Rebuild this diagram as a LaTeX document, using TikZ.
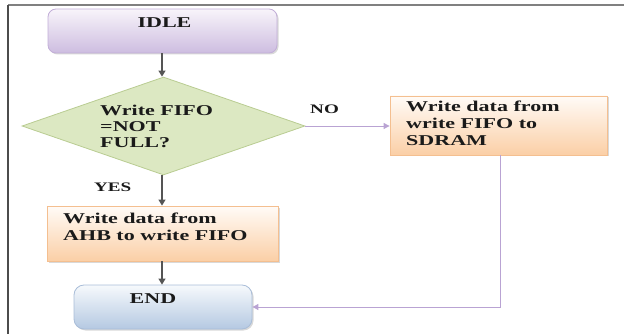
\documentclass[tikz,border=0pt]{standalone}
\usepackage{fontspec}
\setmainfont[FakeStretch=1.47]{Liberation Serif}
\usetikzlibrary{shapes.geometric,shadows,arrows.meta}
\definecolor{idletop}{HTML}{F8F4FA}
\definecolor{idlebot}{HTML}{CDBDE0}
\definecolor{idleedge}{HTML}{C2AED8}
\definecolor{dmdfill}{HTML}{DCE8C2}
\definecolor{dmdedge}{HTML}{B9CC92}
\definecolor{ortop}{HTML}{FFFBF7}
\definecolor{orbot}{HTML}{FBCFA6}
\definecolor{oredge}{HTML}{F4BF90}
\definecolor{endtop}{HTML}{F6F9FC}
\definecolor{endbot}{HTML}{B5C9E2}
\definecolor{endedge}{HTML}{A9BDD8}
\definecolor{lav}{HTML}{B9A3D3}
\definecolor{darkarr}{HTML}{555555}
\definecolor{txt}{HTML}{1A1A1A}
\tikzset{
  boxshadow/.style={drop shadow={shadow xshift=1.5pt,shadow yshift=-1.5pt,opacity=0.25,fill=black!60}},
  idlebox/.style={rounded corners=8pt,draw=idleedge,line width=0.8pt,top color=idletop,bottom color=idlebot,inner sep=0,boxshadow},
  endbox/.style={rounded corners=10pt,draw=endedge,line width=0.8pt,top color=endtop,bottom color=endbot,inner sep=0,boxshadow},
  orbox/.style={draw=oredge,line width=0.8pt,top color=ortop,bottom color=orbot,inner sep=0,boxshadow},
  dmd/.style={diamond,draw=dmdedge,line width=0.8pt,fill=dmdfill,inner sep=0,minimum width=283pt,minimum height=98pt},
  txtnode/.style={inner sep=0,anchor=north west,align=left,text=txt,font=\fontsize{15}{17}\selectfont\bfseries},
  lbl/.style={inner sep=0,anchor=base west,text=txt,font=\fontsize{13}{15}\selectfont\bfseries},
  darrow/.style={draw=darkarr,line width=1.1pt,-{Triangle[length=6pt,width=7pt]}},
  larrow/.style={draw=lav,line width=0.9pt,-{Triangle[length=6pt,width=6pt]}}
}
\begin{document}
\begin{tikzpicture}[x=1pt,y=-1pt]
\useasboundingbox (0,0) rectangle (624,334);
% frame
\draw[draw=black!50,line width=1.6pt] (8,5) -- (624,5);
\draw[draw=black!70,line width=1.4pt] (8,5) -- (8,334);
% shapes
\node[idlebox,minimum width=229pt,minimum height=44pt] (idle) at (162.5,31) {};
\node[dmd] (dec) at (163.5,126) {};
\node[orbox,minimum width=217pt,minimum height=59pt] (sdram) at (498.5,125.5) {};
\node[orbox,minimum width=231pt,minimum height=55pt] (ahb) at (162.5,233.5) {};
\node[endbox,minimum width=178pt,minimum height=44pt] (end) at (163,307) {};
% texts
\node[inner sep=0,anchor=base,text=txt,font=\fontsize{15}{17}\selectfont\bfseries] (idlet) at (164.5,28) {IDLE};
\node[txtnode,font=\fontsize{15}{16}\selectfont\bfseries] (dect) at (100,105) {Write FIFO\\=NOT\\FULL?};
\node[txtnode] (sdramt) at (406,101) {Write data from\\write FIFO to\\SDRAM};
\node[txtnode] (ahbt) at (63,213) {Write data from\\AHB to write FIFO};
\node[inner sep=0,anchor=base,text=txt,font=\fontsize{15}{17}\selectfont\bfseries] (endt) at (153,303) {END};
\node[lbl] (no) at (310,114) {NO};
\node[lbl] (yes) at (94,192) {YES};
% connectors
\draw[darrow] (idle.south -| 162,0) -- (dec.north -| 162,0);
\draw[darrow] (dec.south -| 162,0) -- (ahb.north -| 162,0);
\draw[darrow] (ahb.south -| 162,0) -- (end.north -| 162,0);
\draw[larrow] (dec.east) -- (dec.east -| sdram.west);
\draw[larrow] (sdram.south -| 500,0) -- (500,307) -- (end.east);
\end{tikzpicture}
\end{document}
